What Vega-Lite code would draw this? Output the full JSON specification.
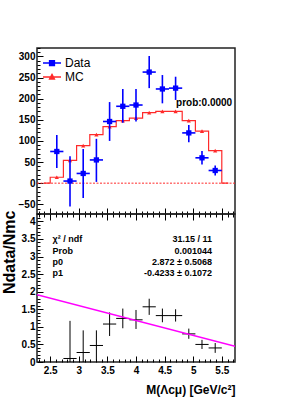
{
  "$schema": "https://vega.github.io/schema/vega-lite/v6.json",
  "padding": {"left": 0, "top": 46, "right": 5, "bottom": 5},
  "bounds": "flush",
  "spacing": 0,
  "config": {
    "font": "Liberation Sans",
    "view": {"stroke": "#222", "strokeWidth": 1.5},
    "axis": {
      "domain": false, "grid": false,
      "labelFont": "Liberation Sans", "labelFontWeight": "bold", "labelFontSize": 10, "labelColor": "#000",
      "labelOverlap": false, "labelFlush": false,
      "tickColor": "#000", "tickWidth": 1,
      "titleFont": "Liberation Sans", "titleFontWeight": "bold", "titleColor": "#000"
    }
  },
  "datasets": {
    "bins": [
      {"c": 2.3846, "lo": 2.2692, "hi": 2.5, "mc": 0},
      {"c": 2.6154, "lo": 2.5, "hi": 2.7308, "d": 75, "dlo": 36, "dhi": 114, "mc": 14},
      {"c": 2.8462, "lo": 2.7308, "hi": 2.9615, "d": 5, "dlo": -55, "dhi": 64, "mc": 54},
      {"c": 3.0769, "lo": 2.9615, "hi": 3.1923, "d": 23, "dlo": -35, "dhi": 81, "mc": 89},
      {"c": 3.3077, "lo": 3.1923, "hi": 3.4231, "d": 55, "dlo": 3, "dhi": 105, "mc": 115},
      {"c": 3.5385, "lo": 3.4231, "hi": 3.6538, "d": 146, "dlo": 100, "dhi": 192, "mc": 134},
      {"c": 3.7692, "lo": 3.6538, "hi": 3.8846, "d": 182, "dlo": 143, "dhi": 223, "mc": 148},
      {"c": 4.0, "lo": 3.8846, "hi": 4.1154, "d": 185, "dlo": 146, "dhi": 223, "mc": 154},
      {"c": 4.2308, "lo": 4.1154, "hi": 4.3462, "d": 263, "dlo": 225, "dhi": 301, "mc": 167},
      {"c": 4.4615, "lo": 4.3462, "hi": 4.5769, "d": 223, "dlo": 189, "dhi": 256, "mc": 170},
      {"c": 4.6923, "lo": 4.5769, "hi": 4.8077, "d": 225, "dlo": 197, "dhi": 252, "mc": 170},
      {"c": 4.9231, "lo": 4.8077, "hi": 5.0385, "d": 119, "dlo": 97, "dhi": 138, "mc": 148},
      {"c": 5.1538, "lo": 5.0385, "hi": 5.2692, "d": 60, "dlo": 44, "dhi": 76, "mc": 123},
      {"c": 5.3846, "lo": 5.2692, "hi": 5.5, "d": 30, "dlo": 18, "dhi": 42, "mc": 77},
      {"c": 5.6154, "lo": 5.5, "hi": 5.7308, "mc": 0}
    ],
    "ratio": [
      {"c": 2.8462, "lo": 2.7308, "hi": 2.9615, "r": 0.1, "rlo": -0.95, "rhi": 1.17},
      {"c": 3.0769, "lo": 2.9615, "hi": 3.1923, "r": 0.27, "rlo": -0.37, "rhi": 0.9},
      {"c": 3.3077, "lo": 3.1923, "hi": 3.4231, "r": 0.47, "rlo": 0.05, "rhi": 0.9},
      {"c": 3.5385, "lo": 3.4231, "hi": 3.6538, "r": 1.08, "rlo": 0.74, "rhi": 1.41},
      {"c": 3.7692, "lo": 3.6538, "hi": 3.8846, "r": 1.24, "rlo": 0.96, "rhi": 1.52},
      {"c": 4.0, "lo": 3.8846, "hi": 4.1154, "r": 1.2, "rlo": 0.94, "rhi": 1.48},
      {"c": 4.2308, "lo": 4.1154, "hi": 4.3462, "r": 1.57, "rlo": 1.34, "rhi": 1.8},
      {"c": 4.4615, "lo": 4.3462, "hi": 4.5769, "r": 1.32, "rlo": 1.13, "rhi": 1.52},
      {"c": 4.6923, "lo": 4.5769, "hi": 4.8077, "r": 1.32, "rlo": 1.15, "rhi": 1.5},
      {"c": 4.9231, "lo": 4.8077, "hi": 5.0385, "r": 0.8, "rlo": 0.66, "rhi": 0.95},
      {"c": 5.1538, "lo": 5.0385, "hi": 5.2692, "r": 0.5, "rlo": 0.37, "rhi": 0.63},
      {"c": 5.3846, "lo": 5.2692, "hi": 5.5, "r": 0.4, "rlo": 0.26, "rhi": 0.54}
    ],
    "fit": [{"xa": 2.2692, "ya": 1.911, "xb": 5.7308, "yb": 0.446}],
    "stats": [{"left": "χ² / ndf\nProb\np0\np1", "right": "31.15 / 11\n0.001044\n2.872 ± 0.5068\n-0.4233 ± 0.1072"}],
    "note": [{"t": "prob:0.0000"}]
  },
  "vconcat": [
    {
      "width": 198,
      "height": 166,
      "resolve": {"axis": {"x": "independent", "y": "independent"}},
      "layer": [
        {
          "data": {"name": "bins"},
          "mark": {"type": "line", "interpolate": "step", "strokeWidth": 1.2, "clip": true},
          "encoding": {
            "x": {"field": "c", "type": "quantitative",
              "scale": {"domain": [2.2692, 5.7308], "nice": false, "zero": false},
              "axis": {"orient": "bottom", "title": null, "labels": false, "tickSize": -6,
                "values": [2.5, 3, 3.5, 4, 4.5, 5, 5.5]}},
            "y": {"field": "mc", "type": "quantitative",
              "scale": {"domain": [-73, 320], "nice": false, "zero": false},
              "axis": {"orient": "left", "title": null, "format": "d", "tickSize": -6, "labelPadding": 8,
                "values": [-50, 0, 50, 100, 150, 200, 250, 300]}},
            "color": {"datum": "MC", "type": "nominal",
              "scale": {"domain": ["Data", "MC"], "range": ["#0000ff", "#ff2a2a"]},
              "legend": {
                "title": null, "orient": "top-left", "offset": 9, "padding": 0,
                "labelFont": "Liberation Sans", "labelFontSize": 12, "labelColor": "#000",
                "labelOffset": 7, "symbolSize": 81, "rowPadding": 2,
                "encode": {"symbols": {"update": {
                  "shape": {"signal": "datum.value === 'Data' ? 'M-2,0H2M-0.55,-0.55H0.55V0.55H-0.55Z' : 'M-2,0H2M0,-0.6L0.55,0.45H-0.55Z'"},
                  "stroke": {"signal": "datum.value === 'Data' ? '#0000ff' : '#ff2a2a'"},
                  "fill": {"signal": "datum.value === 'Data' ? '#0000ff' : '#ff2a2a'"},
                  "strokeWidth": {"value": 1.3},
                  "opacity": {"value": 1}
                }}}
              }}
          }
        },
        {
          "data": {"values": [{}]},
          "mark": {"type": "rule", "color": "#ff2a2a", "strokeDash": [2, 1.5], "strokeWidth": 1},
          "encoding": {
            "y": {"datum": 0, "type": "quantitative",
              "axis": {"orient": "left", "title": null, "labels": false, "tickSize": -3,
                "values": [-70,-60,-40,-30,-20,-10,10,20,30,40,60,70,80,90,110,120,130,140,160,170,180,190,210,220,230,240,260,270,280,290,310,320]}}
          }
        },
        {
          "data": {"name": "bins"},
          "transform": [{"filter": "datum.mc > 0"}],
          "mark": {"type": "point", "shape": "triangle-up", "filled": true, "size": 18, "opacity": 1},
          "encoding": {
            "x": {"field": "c", "type": "quantitative",
              "axis": {"orient": "bottom", "title": null, "labels": false, "tickSize": -3,
                "values": [2.3,2.4,2.6,2.7,2.8,2.9,3.1,3.2,3.3,3.4,3.6,3.7,3.8,3.9,4.1,4.2,4.3,4.4,4.6,4.7,4.8,4.9,5.1,5.2,5.3,5.4,5.6,5.7]}},
            "y": {"field": "mc", "type": "quantitative", "axis": null},
            "color": {"datum": "MC", "type": "nominal"}
          }
        },
        {
          "data": {"name": "bins"},
          "transform": [{"filter": "isValid(datum.d)"}],
          "mark": {"type": "rule", "strokeWidth": 1.6, "clip": true},
          "encoding": {
            "x": {"field": "lo", "type": "quantitative", "axis": null},
            "x2": {"field": "hi"},
            "y": {"field": "d", "type": "quantitative", "axis": null},
            "color": {"datum": "Data", "type": "nominal"}
          }
        },
        {
          "data": {"name": "bins"},
          "transform": [{"filter": "isValid(datum.d)"}],
          "mark": {"type": "rule", "strokeWidth": 1.6, "clip": true},
          "encoding": {
            "x": {"field": "c", "type": "quantitative", "axis": null},
            "y": {"field": "dlo", "type": "quantitative", "axis": null},
            "y2": {"field": "dhi"},
            "color": {"datum": "Data", "type": "nominal"}
          }
        },
        {
          "data": {"name": "bins"},
          "transform": [{"filter": "isValid(datum.d)"}],
          "mark": {"type": "point", "shape": "square", "filled": true, "size": 28, "opacity": 1},
          "encoding": {
            "x": {"field": "c", "type": "quantitative", "axis": null},
            "y": {"field": "d", "type": "quantitative", "axis": null},
            "color": {"datum": "Data", "type": "nominal"}
          }
        },
        {
          "data": {"name": "note"},
          "mark": {"type": "text", "align": "left", "baseline": "middle", "fontSize": 10, "fontWeight": "bold", "font": "Liberation Sans", "color": "#000"},
          "encoding": {
            "x": {"datum": 4.70, "type": "quantitative", "axis": null},
            "y": {"datum": 190, "type": "quantitative", "axis": null},
            "text": {"field": "t"}
          }
        }
      ]
    },
    {
      "width": 198,
      "height": 148,
      "resolve": {"axis": {"x": "independent", "y": "independent"}},
      "layer": [
        {
          "data": {"name": "ratio"},
          "mark": {"type": "rule", "color": "#000", "strokeWidth": 1, "clip": true},
          "encoding": {
            "x": {"field": "lo", "type": "quantitative",
              "scale": {"domain": [2.2692, 5.7308], "nice": false, "zero": false},
              "axis": {"orient": "bottom", "format": ".1~f", "tickSize": -6, "labelPadding": 9,
                "title": "M(Λcμ) [GeV/c²]", "titleFontSize": 12, "titleAnchor": "end", "titlePadding": 9,
                "values": [2.5, 3, 3.5, 4, 4.5, 5, 5.5]}},
            "x2": {"field": "hi"},
            "y": {"field": "r", "type": "quantitative",
              "scale": {"domain": [0, 4.21], "nice": false, "zero": false},
              "axis": {"orient": "left", "format": ".1~f", "tickSize": -6, "labelPadding": 8,
                "title": "Ndata/Nmc", "titleFontSize": 16, "titleAnchor": "end", "titleX": -20, "titleY": -4,
                "values": [0, 0.5, 1, 1.5, 2, 2.5, 3, 3.5, 4]}}
          }
        },
        {
          "data": {"name": "ratio"},
          "mark": {"type": "rule", "color": "#000", "strokeWidth": 1, "clip": true},
          "encoding": {
            "x": {"field": "c", "type": "quantitative",
              "axis": {"orient": "bottom", "title": null, "labels": false, "tickSize": -3,
                "values": [2.3,2.4,2.6,2.7,2.8,2.9,3.1,3.2,3.3,3.4,3.6,3.7,3.8,3.9,4.1,4.2,4.3,4.4,4.6,4.7,4.8,4.9,5.1,5.2,5.3,5.4,5.6,5.7]}},
            "y": {"field": "rlo", "type": "quantitative",
              "axis": {"orient": "left", "title": null, "labels": false, "tickSize": -3,
                "values": [0.1,0.2,0.3,0.4,0.6,0.7,0.8,0.9,1.1,1.2,1.3,1.4,1.6,1.7,1.8,1.9,2.1,2.2,2.3,2.4,2.6,2.7,2.8,2.9,3.1,3.2,3.3,3.4,3.6,3.7,3.8,3.9,4.1,4.2]}},
            "y2": {"field": "rhi"}
          }
        },
        {
          "data": {"name": "fit"},
          "mark": {"type": "rule", "color": "#ff00ff", "strokeWidth": 1.5, "clip": true},
          "encoding": {
            "x": {"field": "xa", "type": "quantitative",
              "axis": {"orient": "top", "title": null, "labels": false, "tickSize": -6,
                "values": [2.5, 3, 3.5, 4, 4.5, 5, 5.5]}},
            "x2": {"field": "xb"},
            "y": {"field": "ya", "type": "quantitative", "axis": null},
            "y2": {"field": "yb"}
          }
        },
        {
          "data": {"name": "stats"},
          "mark": {"type": "text", "align": "left", "baseline": "top", "lineBreak": "\n", "lineHeight": 11.2, "fontSize": 9, "fontWeight": "bold", "font": "Liberation Sans", "color": "#000"},
          "encoding": {
            "x": {"datum": 2.54, "type": "quantitative",
              "axis": {"orient": "top", "title": null, "labels": false, "tickSize": -3,
                "values": [2.3,2.4,2.6,2.7,2.8,2.9,3.1,3.2,3.3,3.4,3.6,3.7,3.8,3.9,4.1,4.2,4.3,4.4,4.6,4.7,4.8,4.9,5.1,5.2,5.3,5.4,5.6,5.7]}},
            "y": {"datum": 3.6, "type": "quantitative", "axis": null},
            "text": {"field": "left"}
          }
        },
        {
          "data": {"name": "stats"},
          "mark": {"type": "text", "align": "right", "baseline": "top", "lineBreak": "\n", "lineHeight": 11.2, "fontSize": 9, "fontWeight": "bold", "font": "Liberation Sans", "color": "#000"},
          "encoding": {
            "x": {"datum": 5.33, "type": "quantitative", "axis": null},
            "y": {"datum": 3.6, "type": "quantitative", "axis": null},
            "text": {"field": "right"}
          }
        }
      ]
    }
  ]
}
